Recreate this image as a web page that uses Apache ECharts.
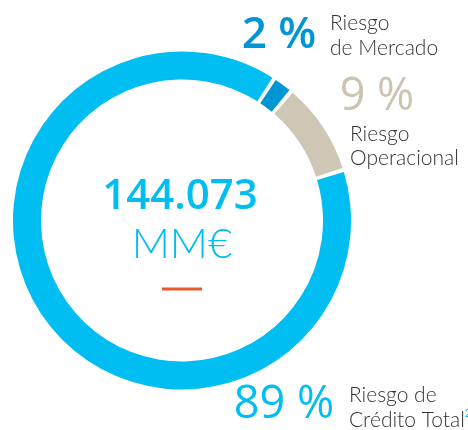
<!DOCTYPE html>
<html>
<head>
<meta charset="utf-8">
<script src="https://cdn.jsdelivr.net/npm/echarts@6/dist/echarts.min.js"></script>
<style>html,body{margin:0;padding:0;background:#fff;}#c{width:468px;height:430px;}</style>
</head>
<body>
<div id="c"></div>
<script>
const categories = ['Riesgo de Crédito Total', 'Riesgo de Mercado', 'Riesgo Operacional'];
const values = [89, 2, 9];
const percentLabels = ['89 %', '2 %', '9 %'];
const totalValue = '144.073';
const totalUnit = 'MM€';
const footnote = '2';

const colors = ['#00BDF2', '#0096D6', '#CFC7B5'];
const FONT = '"Open Sans", "Noto Sans", sans-serif';
const LFONT = 'Lato, "Open Sans", sans-serif';

const chart = echarts.init(document.getElementById('c'));
chart.setOption({
  animation: false,
  series: [{
    type: 'pie',
    center: [182, 220.5],
    radius: [141, 169],
    startAngle: 17.4,
    clockwise: true,
    padAngle: 1.4,
    label: { show: false },
    labelLine: { show: false },
    silent: true,
    data: categories.map((n, i) => ({ name: n, value: values[i], itemStyle: { color: colors[i] } }))
  }],
  graphic: [
    { type: 'text', x: 180, y: 197, style: { text: totalValue, fill: '#00BDF2', font: '600 42px ' + FONT, textAlign: 'center', textVerticalAlign: 'middle' } },
    { type: 'text', x: 182, y: 244, style: { text: totalUnit, fill: '#00BDF2', font: '300 42px ' + LFONT, textAlign: 'center', textVerticalAlign: 'middle' } },
    { type: 'line', shape: { x1: 162, y1: 289, x2: 202, y2: 289 }, style: { stroke: '#E85A2C', lineWidth: 3 } },
    { type: 'text', x: 279, y: 35, style: { text: percentLabels[1], fill: colors[1], font: '600 44px ' + FONT, textAlign: 'center', textVerticalAlign: 'middle' } },
    { type: 'text', x: 377, y: 97, style: { text: percentLabels[2], fill: '#CCC4B2', font: '400 45px ' + FONT, textAlign: 'center', textVerticalAlign: 'middle' } },
    { type: 'text', x: 284, y: 405, style: { text: percentLabels[0], fill: colors[0], font: '400 45px ' + FONT, textAlign: 'center', textVerticalAlign: 'middle' } },
    { type: 'text', x: 330, y: 36, style: { text: 'Riesgo\nde Mercado', fill: '#333333', font: '300 21px ' + LFONT, lineHeight: 25, textAlign: 'left', textVerticalAlign: 'middle' } },
    { type: 'text', x: 350, y: 146.5, style: { text: 'Riesgo\nOperacional', fill: '#333333', font: '300 21px ' + LFONT, lineHeight: 24, textAlign: 'left', textVerticalAlign: 'middle' } },
    { type: 'text', x: 349, y: 408, style: {
        text: 'Riesgo de\nCrédito Total{s|' + footnote + '}', fill: '#333333', font: '300 21px ' + LFONT, lineHeight: 25,
        textAlign: 'left', textVerticalAlign: 'middle',
        rich: { s: { fill: '#00BDF2', fontSize: 11, fontFamily: LFONT, verticalAlign: 'top', lineHeight: 25, padding: [0, 0, 10, 0] } }
      } }
  ]
});
</script>
</body>
</html>
